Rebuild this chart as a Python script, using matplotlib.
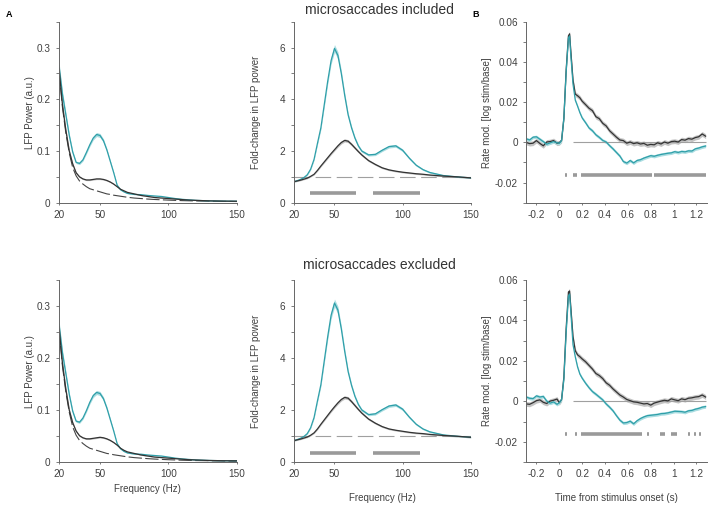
import matplotlib
matplotlib.use('Agg')
import matplotlib.pyplot as plt
import numpy as np

plt.rcParams['font.family'] = ['Liberation Sans', 'DejaVu Sans']
plt.rcParams['axes.unicode_minus'] = False

# ---------------- data ----------------
freq = [20, 22.5, 25, 27.5, 30, 32.5, 35, 37.5, 40, 42.5, 45, 47.5, 50, 52.5, 55, 57.5,
        60, 62.5, 65, 67.5, 70, 75, 80, 85, 90, 95, 100, 105, 110, 115, 120, 130, 140, 150]

# LFP power, microsaccades included
pow_inc_teal = [0.265, 0.21, 0.17, 0.13, 0.098, 0.078, 0.076, 0.083, 0.097, 0.112, 0.125, 0.132,
                0.130, 0.120, 0.102, 0.080, 0.058, 0.034, 0.025, 0.021, 0.018, 0.016, 0.0155,
                0.014, 0.013, 0.012, 0.010, 0.008, 0.0065, 0.0055, 0.0045, 0.0035, 0.003, 0.0028]
pow_inc_black = [0.26, 0.19, 0.14, 0.10, 0.075, 0.058, 0.050, 0.046, 0.044, 0.044, 0.045, 0.046,
                 0.046, 0.045, 0.043, 0.040, 0.036, 0.031, 0.026, 0.023, 0.020, 0.017, 0.014,
                 0.012, 0.010, 0.009, 0.008, 0.007, 0.006, 0.005, 0.0045, 0.0035, 0.003, 0.0028]
pow_inc_fit = [0.255, 0.185, 0.135, 0.096, 0.068, 0.052, 0.042, 0.036, 0.031, 0.027, 0.025, 0.023,
               0.021, 0.019, 0.017, 0.016, 0.0145, 0.0135, 0.0125, 0.0115, 0.0105, 0.009, 0.008,
               0.007, 0.0062, 0.0056, 0.005, 0.0045, 0.004, 0.0037, 0.0034, 0.003, 0.0026, 0.0023]

# LFP power, microsaccades excluded
pow_exc_teal = [0.265, 0.21, 0.17, 0.13, 0.098, 0.079, 0.077, 0.085, 0.099, 0.115, 0.128, 0.134,
                0.132, 0.122, 0.104, 0.082, 0.060, 0.036, 0.026, 0.021, 0.018, 0.016, 0.0155,
                0.014, 0.013, 0.012, 0.010, 0.008, 0.0065, 0.0055, 0.0045, 0.0035, 0.003, 0.0028]
pow_exc_black = [0.26, 0.19, 0.14, 0.10, 0.076, 0.060, 0.051, 0.047, 0.045, 0.045, 0.046, 0.047,
                 0.048, 0.047, 0.045, 0.042, 0.038, 0.033, 0.027, 0.023, 0.020, 0.017, 0.014,
                 0.012, 0.010, 0.009, 0.008, 0.007, 0.006, 0.005, 0.0045, 0.0035, 0.003, 0.0028]
pow_exc_fit = pow_inc_fit

# fold change in LFP power
fold_inc_teal = [0.81, 0.85, 0.90, 0.97, 1.08, 1.30, 1.68, 2.30, 2.90, 3.80, 4.70, 5.50, 5.97,
                 5.70, 5.00, 4.15, 3.40, 2.90, 2.50, 2.20, 2.00, 1.85, 1.87, 2.03, 2.17, 2.20,
                 2.03, 1.72, 1.45, 1.28, 1.17, 1.05, 1.00, 0.96]
fold_inc_black = [0.81, 0.84, 0.87, 0.91, 0.95, 1.02, 1.10, 1.25, 1.42, 1.58, 1.74, 1.90, 2.05,
                  2.20, 2.33, 2.41, 2.38, 2.26, 2.12, 1.98, 1.85, 1.63, 1.48, 1.35, 1.27, 1.22,
                  1.18, 1.15, 1.12, 1.10, 1.07, 1.03, 1.00, 0.96]
fold_exc_teal = [0.83, 0.87, 0.92, 0.99, 1.10, 1.33, 1.72, 2.36, 2.98, 3.90, 4.82, 5.64, 6.11,
                 5.84, 5.12, 4.25, 3.48, 2.95, 2.53, 2.22, 2.01, 1.83, 1.86, 2.02, 2.16, 2.20,
                 2.04, 1.73, 1.46, 1.28, 1.17, 1.05, 1.00, 0.96]
fold_exc_black = [0.83, 0.86, 0.89, 0.93, 0.97, 1.04, 1.13, 1.28, 1.46, 1.63, 1.80, 1.97, 2.13,
                  2.28, 2.41, 2.49, 2.46, 2.33, 2.18, 2.03, 1.89, 1.66, 1.50, 1.37, 1.28, 1.23,
                  1.19, 1.15, 1.12, 1.10, 1.07, 1.03, 1.00, 0.96]

freq_sig = [(32, 66), (78, 113)]

# firing rate modulation
time = [-0.29, -0.26, -0.23, -0.2, -0.17, -0.14, -0.11, -0.08, -0.05, -0.02, 0.0, 0.02, 0.04,
        0.06, 0.08, 0.09, 0.1, 0.12, 0.14, 0.16, 0.18, 0.2, 0.23, 0.26, 0.29, 0.32, 0.35, 0.38,
        0.41, 0.44, 0.47, 0.5, 0.53, 0.56, 0.59, 0.62, 0.65, 0.68, 0.71, 0.74, 0.77, 0.8, 0.83,
        0.86, 0.89, 0.92, 0.95, 0.98, 1.01, 1.04, 1.07, 1.1, 1.13, 1.16, 1.19, 1.22, 1.25, 1.28]

rate_inc_black = [0.0, -0.0006, -0.0004, 0.0009, -0.0005, -0.0017, 0.0002, 0.0004, 0.0009,
                  -0.0004, -0.0002, 0.001, 0.012, 0.036, 0.053, 0.054, 0.046, 0.031, 0.024,
                  0.0232, 0.0222, 0.0205, 0.0188, 0.017, 0.0158, 0.0128, 0.0118, 0.0095, 0.0082,
                  0.0058, 0.0042, 0.0026, 0.0012, 0.0009, -0.0004, 0.0002, -0.0006, -0.0002,
                  -0.0008, -0.0005, -0.0014, -0.001, -0.0012, -0.0002, -0.0008, 0.0002, -0.0004,
                  0.0004, 0.0006, 0.0002, 0.0014, 0.0011, 0.0019, 0.0016, 0.0024, 0.0028, 0.0042,
                  0.0031]
rate_inc_teal = [0.0018, 0.0012, 0.0026, 0.0028, 0.0016, 0.0004, -0.0009, -0.0002, 0.0004,
                 -0.0002, -0.0004, 0.001, 0.012, 0.035, 0.052, 0.053, 0.044, 0.029, 0.021, 0.018,
                 0.0148, 0.0122, 0.0098, 0.0072, 0.0058, 0.0038, 0.0025, 0.001, 0.0002, -0.0016,
                 -0.0032, -0.005, -0.0068, -0.0095, -0.0103, -0.009, -0.0102, -0.009, -0.0086,
                 -0.0078, -0.0072, -0.0066, -0.0069, -0.0064, -0.006, -0.0057, -0.0054, -0.0052,
                 -0.0046, -0.005, -0.0045, -0.0047, -0.0042, -0.0043, -0.0032, -0.0028, -0.0022,
                 -0.0018]
rate_exc_black = [-0.0012, -0.0014, -0.0006, 0.0004, 0.0008, -0.0004, -0.001, 0.0002, 0.0006,
                  0.0012, -0.0006, 0.001, 0.012, 0.036, 0.054, 0.0545, 0.047, 0.032, 0.025,
                  0.023, 0.0221, 0.021, 0.0196, 0.0178, 0.016, 0.0138, 0.0128, 0.0113, 0.0092,
                  0.008, 0.0062, 0.0047, 0.0032, 0.0022, 0.001, 0.0004, -0.0002, -0.0004, -0.0008,
                  -0.0012, -0.001, -0.0018, -0.0008, -0.0003, 0.0002, 0.0006, 0.0003, 0.0013,
                  0.0008, 0.0004, 0.0013, 0.0009, 0.0016, 0.0018, 0.0022, 0.0024, 0.0032, 0.0022]
rate_exc_teal = [0.0022, 0.0016, 0.0014, 0.0028, 0.0022, 0.0025, 0.0002, -0.0008, -0.0002,
                 -0.0014, -0.0006, 0.001, 0.011, 0.034, 0.052, 0.053, 0.045, 0.028, 0.022, 0.017,
                 0.0135, 0.0115, 0.009, 0.0068, 0.0049, 0.0036, 0.0022, 0.0008, -0.0012, -0.0028,
                 -0.0046, -0.007, -0.0092, -0.0106, -0.0104, -0.0097, -0.011, -0.0095, -0.0084,
                 -0.0076, -0.007, -0.0068, -0.0066, -0.0064, -0.006, -0.0059, -0.0056, -0.0052,
                 -0.0048, -0.0049, -0.005, -0.0053, -0.0046, -0.0044, -0.0038, -0.0034, -0.0028,
                 -0.0025]

time_sig_inc = [(0.047, 0.064), (0.122, 0.157), (0.186, 0.815), (0.833, 1.287)]
time_sig_exc = [(0.053, 0.067), (0.135, 0.152), (0.193, 0.72), (0.77, 0.785), (0.878, 0.922),
                (0.98, 1.03), (1.127, 1.142), (1.18, 1.195), (1.224, 1.236)]

TEAL = '#2f9fa9'
TEAL_BAND = '#aadde1'
BLACK = '#333333'
GRAY_BAND = '#c4c4c4'
SIG = '#9a9a9a'
SPINE = '#666666'
TXT = '#404040'
FS_TICK = 7.2
FS_LAB = 7


def style(ax, xlim, ylim, xticks, xlabels, yticks, ylabels):
    for s in ['top', 'right']:
        ax.spines[s].set_visible(False)
    for s in ['left', 'bottom']:
        ax.spines[s].set_color(SPINE)
        ax.spines[s].set_linewidth(0.7)
    ax.set_xlim(xlim)
    ax.set_ylim(ylim)
    ax.set_xticks(xticks)
    ax.set_xticklabels(xlabels)
    ax.set_yticks(yticks)
    ax.set_yticklabels(ylabels)
    ax.tick_params(labelsize=FS_TICK, width=0.6, color=SPINE, labelcolor=TXT, pad=3.5)
    ax.tick_params(axis='y', length=2.5)
    ax.tick_params(axis='x', length=1.5)
    ax.patch.set_alpha(0)


def power_panel(ax, teal, black, fit):
    f = np.array(freq)
    t = np.array(teal)
    b = np.array(black)
    ax.fill_between(f, t * 0.97, t * 1.03, color=TEAL_BAND, lw=0)
    ax.fill_between(f, b * 0.97, b * 1.03, color=GRAY_BAND, lw=0)
    ax.plot(f, fit, color='#444444', lw=0.8, ls=(0, (12, 3)))
    ax.plot(f, teal, color=TEAL, lw=0.9)
    ax.plot(f, black, color=BLACK, lw=0.9)
    style(ax, (20, 150), (0, 0.35), [20, 50, 100, 150], ['20', '50', '100', '150'],
          [0, 0.05, 0.1, 0.15, 0.2, 0.25, 0.3, 0.35], ['0', '', '0.1', '', '0.2', '', '0.3', ''])
    ax.set_ylabel('LFP Power (a.u.)', fontsize=FS_LAB, color=TXT)
    ax.yaxis.set_label_coords(-0.165, 0.5)
    ax.yaxis.label.set_verticalalignment('center')


def fold_panel(ax, teal, black):
    f = np.array(freq)
    t = np.array(teal)
    b = np.array(black)
    ax.hlines(1, 20, 150, color='#a0a0a0', lw=0.8, linestyles=[(0, (14, 5))])
    ax.fill_between(f, t * 0.975, t * 1.025, color=TEAL_BAND, lw=0)
    ax.fill_between(f, b * 0.975, b * 1.025, color=GRAY_BAND, lw=0)
    ax.plot(f, teal, color=TEAL, lw=0.9)
    ax.plot(f, black, color=BLACK, lw=0.9)
    for a, b2 in freq_sig:
        ax.hlines(0.36, a, b2, color=SIG, lw=2.6, capstyle='butt')
    style(ax, (20, 150), (0, 7), [20, 50, 100, 150], ['20', '50', '100', '150'],
          [0, 1, 2, 3, 4, 5, 6, 7], ['0', '', '2', '', '4', '', '6', ''])
    ax.set_ylabel('Fold-change in LFP power', fontsize=FS_LAB, color=TXT)
    ax.yaxis.set_label_coords(-0.21, 0.5)
    ax.yaxis.label.set_verticalalignment('center')


def rate_panel(ax, teal, black, sig):
    tt = np.array(time)
    t = np.array(teal)
    b = np.array(black)
    ax.hlines(0, 0.12, 1.28, color='#a0a0a0', lw=0.8)
    ax.fill_between(tt, b - 0.0012, b + 0.0012, color=GRAY_BAND, lw=0)
    ax.fill_between(tt, t - 0.0008, t + 0.0008, color=TEAL_BAND, lw=0)
    ax.plot(tt, black, color=BLACK, lw=0.9)
    ax.plot(tt, teal, color=TEAL, lw=0.9)
    for a, b2 in sig:
        ax.hlines(-0.0162, a, b2, color=SIG, lw=2.6, capstyle='butt')
    style(ax, (-0.29, 1.29), (-0.03, 0.06),
          [-0.2, 0, 0.2, 0.4, 0.6, 0.8, 1.0, 1.2],
          ['-0.2', '0', '0.2', '0.4', '0.6', '0.8', '1', '1.2'],
          [-0.03, -0.02, -0.01, 0, 0.01, 0.02, 0.03, 0.04, 0.05, 0.06],
          ['', '-0.02', '', '0', '', '0.02', '', '0.04', '', '0.06'])
    ax.set_ylabel('Rate mod. [log stim/base]', fontsize=FS_LAB, color=TXT)
    ax.yaxis.set_label_coords(-0.215, 0.5)
    ax.yaxis.label.set_verticalalignment('center')


fig = plt.figure(figsize=(7.11, 5.32), dpi=100)

top_b, top_h = 0.619, 0.340
bot_b, bot_h = 0.131, 0.343

ax1 = fig.add_axes([0.083, top_b, 0.250, top_h])
ax2 = fig.add_axes([0.413, top_b, 0.249, top_h])
ax3 = fig.add_axes([0.740, top_b, 0.254, top_h])
ax4 = fig.add_axes([0.083, bot_b, 0.250, bot_h])
ax5 = fig.add_axes([0.413, bot_b, 0.249, bot_h])
ax6 = fig.add_axes([0.740, bot_b, 0.254, bot_h])

power_panel(ax1, pow_inc_teal, pow_inc_black, pow_inc_fit)
fold_panel(ax2, fold_inc_teal, fold_inc_black)
rate_panel(ax3, rate_inc_teal, rate_inc_black, time_sig_inc)
power_panel(ax4, pow_exc_teal, pow_exc_black, pow_exc_fit)
fold_panel(ax5, fold_exc_teal, fold_exc_black)
rate_panel(ax6, rate_exc_teal, rate_exc_black, time_sig_exc)

for ax, lab, y in [(ax4, 'Frequency (Hz)', -0.146), (ax5, 'Frequency (Hz)', -0.196),
                   (ax6, 'Time from stimulus onset (s)', -0.196)]:
    ax.set_xlabel(lab, fontsize=FS_LAB, color=TXT)
    ax.xaxis.set_label_coords(0.5, y)
    ax.xaxis.label.set_verticalalignment('center')

fig.text(0.534, 0.981, 'microsaccades included', ha='center', va='center', fontsize=10,
         color='#333333')
fig.text(0.534, 0.502, 'microsaccades excluded', ha='center', va='center', fontsize=10,
         color='#333333')
fig.text(0.013, 0.972, 'A', ha='center', va='center', fontsize=6.5, fontweight='bold')
fig.text(0.669, 0.972, 'B', ha='center', va='center', fontsize=6.5, fontweight='bold')

fig.savefig('out.png', dpi=100)
